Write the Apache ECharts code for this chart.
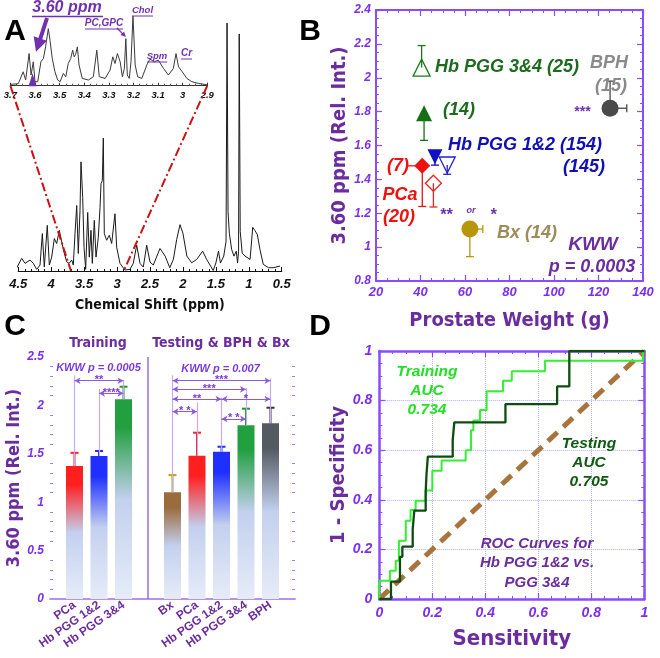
<!DOCTYPE html>
<html>
<head>
<meta charset="utf-8">
<title>Figure</title>
<script src="https://cdn.jsdelivr.net/npm/echarts@6.0.0/dist/echarts.min.js"></script>
<style>
html,body{margin:0;padding:0;background:#ffffff;}
#chart{width:660px;height:658px;}
</style>
</head>
<body>
<div id="chart"></div>
<script>
// ===== Panel A: 1H NMR spectrum (ppm, relative intensity) =====
const specPpm = [4.525,4.449,4.398,4.322,4.272,4.221,4.170,4.135,4.105,4.060,4.029,3.993,3.953,3.917,3.877,3.841,3.801,3.765,3.730,3.689,3.665,3.639,3.613,3.589,3.563,3.548,3.522,3.502,3.477,3.446,3.422,3.396,3.376,3.346,3.320,3.285,3.259,3.244,3.224,3.209,3.194,3.158,3.118,3.082,3.032,3.006,2.956,2.880,2.804,2.754,2.702,2.652,2.602,2.550,2.500,2.450,2.348,2.270,2.200,2.145,2.095,2.044,2.000,1.940,1.867,1.790,1.700,1.640,1.540,1.500,1.460,1.430,1.380,1.345,1.330,1.315,1.295,1.260,1.225,1.190,1.170,1.155,1.145,1.130,1.100,1.056,0.980,0.940,0.905,0.870,0.830,0.780,0.700,0.630,0.525];
const specInt = [3,12.7,7.7,11,7.7,1.7,6,37.7,4,46,6,14,32.7,27.7,41,29.3,17.7,9.3,7.7,11,6,37.7,66,17.7,61,110,74,24,1.7,59,14,41,7.7,51,14,34,64,88,91,134,37.7,31,36,27.7,57.7,24,7.7,1,1.7,7.7,26,7.7,4,26,9,6,22.7,15,3.3,11.7,31.7,46.7,38,15,8.3,11.7,20,11.7,0.5,8,20,8,15,30,250,60,38,21.7,15,20,8,20,239,40,18,15,11.7,44,40.7,36.7,21.7,6.7,3.3,3.3,5];
const insetPpm = [3.702,3.668,3.648,3.638,3.624,3.616,3.607,3.600,3.589,3.576,3.566,3.557,3.546,3.539,3.530,3.519,3.508,3.498,3.485,3.475,3.465,3.455,3.447,3.441,3.435,3.428,3.421,3.408,3.383,3.363,3.349,3.339,3.315,3.295,3.284,3.275,3.265,3.254,3.245,3.237,3.231,3.225,3.217,3.210,3.202,3.193,3.183,3.166,3.146,3.133,3.115,3.099,3.078,3.058,3.038,3.027,3.017,3.004,2.983,2.963,2.936,2.896];
const insetInt = [1.3,2,14,5.7,32.3,10.7,24,4,4,24,27.3,39,57.3,45.7,27.3,14,5.7,4,12.3,9,22.3,27.3,35.7,29,31.3,39,20.7,7.3,5.7,9,35.7,9,7.3,15.7,29,22.3,32.3,24,9,17.3,47.3,10.7,7.3,24,70,20.7,9,7.3,20.7,26.7,24,25.7,17.3,10.7,17.3,32.3,19,14.7,7.3,4,2.3,0.7];
const insetMarker = [3.61, 6];

// ===== Panel B: 3.60 ppm vs prostate weight =====
const bLabels = ['PCa (7)','PCa (20)','Hb PGG 1&2 (154)','Hb PGG 1&2 (145)','Hb PGG 3&4 (14)','Hb PGG 3&4 (25)','Bx (14)','BPH (15)'];
const bWeight = [40.8, 45.8, 46.5, 52.0, 41.6, 40.5, 62.2, 125.2];
const bMean   = [1.48, 1.377, 1.534, 1.485, 1.79, 2.06, 1.107, 1.82];
const bYErr   = [-0.24, -0.14, -0.05, -0.055, -0.16, 0.13, -0.163, 0.16];
const bXErr   = [-7, 0, 0, 0, 0, 0, 5.8, 7.5];

// ===== Panel C: bar chart =====
const trainCats = ['PCa','Hb PGG 1&2','Hb PGG 3&4'];
const trainMean = [1.374, 1.477, 2.063];
const trainErr  = [0.136, 0.052, 0.13];
const testCats  = ['Bx','PCa','Hb PGG 1&2','Hb PGG 3&4','BPH'];
const testMean  = [1.102, 1.48, 1.52, 1.794, 1.815];
const testErr   = [0.178, 0.238, 0.053, 0.172, 0.161];
const trainLinkTop = [2.31, 2.17, 2.26];
const testLinkTop  = [2.31, 2.03, 2.08, 2.18, 2.28];
// [from category, to category, level, stars]  (train: 0..2, test: 0..4)
const trainBrackets = [[0,2,2.255,'**'],[1,2,2.125,'****']];
const testBrackets  = [[0,4,2.255,'***'],[0,3,2.166,'***'],[0,2,2.066,'**'],[2,4,2.066,'*'],[0,1,1.935,'* *'],[2,3,1.86,'* *']];

// ===== Panel D: ROC curves (step corners) =====
const trainSens = [0,0.040,0.062,0.074,0.100,0.118,0.137,0.175,0.200,0.235,0.326,0.346,0.355,0.380,0.405,0.467,0.500,0.625,0.995];
const trainSpec = [0.074,0.114,0.154,0.235,0.316,0.359,0.396,0.437,0.517,0.558,0.600,0.680,0.720,0.762,0.838,0.880,0.918,0.961,1];
const testSens  = [0.044,0.078,0.087,0.126,0.132,0.175,0.178,0.183,0.277,0.283,0.476,0.671,0.717];
const testSpec  = [0.070,0.170,0.211,0.280,0.356,0.433,0.500,0.574,0.641,0.712,0.786,0.857,1];
const diagonal  = [[0,0],[1,1]];

// ---------------- styling ----------------
const FONT = "'Liberation Sans', Arial, sans-serif";
const TFONT = "'DejaVu Sans Condensed','DejaVu Sans', sans-serif";
const LBL = '#7a2ff0';
const TIT = '#6b2c9f';
const AX = '#8a4cff';
const catColor = {'PCa':'#ff1f1f','Hb PGG 1&2':'#1f2fff','Hb PGG 3&4':'#22a040','Bx':'#9a6b3c','BPH':'#545a62'};
const errColor = {'PCa':'#ff2020','Hb PGG 1&2':'#2030ff','Hb PGG 3&4':'#1a9a2a','Bx':'#c8a000','BPH':'#333333'};
const bColor  = ['#ee1111','#ee2222','#1010c8','#2020d0','#157015','#1a7a1a','#b8960a','#4a4a4a'];
const bSymbol = ['diamond','diamond','triangle','triangle','triangle','triangle','circle','circle'];
const bRotate = [0,0,180,180,0,0,0,0];
const bFilled = [true,false,true,false,true,false,true,true];
const bSize   = [16,16,15,16,16,17,17,17];

function steps(sx, sy) {
  const pts = [[0,0]]; let prev = 0;
  sx.forEach((x,i)=>{ pts.push([x,prev]); pts.push([x,sy[i]]); prev = sy[i]; });
  pts.push([1,1]);
  return pts;
}
const lab = (size, color) => ({color: color||LBL, fontFamily:FONT, fontWeight:'bold', fontStyle:'italic', fontSize:size});
function boxAxis(o){
  return Object.assign({type:'value', splitLine:{show:false},
    axisLine:{onZero:false, lineStyle:{color:AX, width:2}},
    axisTick:{inside:true, length:6, lineStyle:{color:AX, width:1.2}},
    minorTick:{show:true, splitNumber:4, length:3, lineStyle:{color:AX, width:1}}}, o);
}

const cAxisCats = [''].concat(trainCats, [''], testCats, ['']);
const trainOffset = 1, testOffset = trainCats.length + 2;

const chart = echarts.init(document.getElementById('chart'), null, {renderer:'canvas'});

const xAxis = [
  {type:'value', gridIndex:0, min:0.5, max:4.5, interval:0.5, inverse:true, splitLine:{show:false},
   axisLine:{onZero:false, lineStyle:{color:'#111', width:1.2}}, axisTick:{inside:true, length:4, lineStyle:{color:'#111'}},
   minorTick:{show:true, splitNumber:5, length:2, lineStyle:{color:'#111'}},
   axisLabel:Object.assign(lab(13,'#111'),{margin:7}),
   name:'Chemical Shift (ppm)', nameLocation:'middle', nameGap:27,
   nameTextStyle:{color:'#111', fontFamily:TFONT, fontWeight:'bold', fontSize:14}},
  {type:'value', gridIndex:1, min:2.9, max:3.7, interval:0.1, inverse:true, splitLine:{show:false},
   axisLine:{onZero:false, lineStyle:{color:'#333', width:1}}, axisTick:{inside:true, length:3, lineStyle:{color:'#333'}},
   minorTick:{show:true, splitNumber:4, length:2, lineStyle:{color:'#555'}},
   axisLabel:Object.assign(lab(9.5,'#111'),{margin:5, formatter:v=>String(Math.round(v*10)/10)})},
  boxAxis({gridIndex:2, min:20, max:140, interval:20, axisLabel:Object.assign(lab(13),{margin:5}),
   name:'Prostate Weight (g)', nameLocation:'middle', nameGap:30,
   nameTextStyle:{color:TIT, fontFamily:TFONT, fontWeight:'bold', fontSize:20}}),
  boxAxis({gridIndex:2, min:20, max:140, interval:20, position:'top', axisLabel:{show:false}}),
  {type:'category', gridIndex:3, data:cAxisCats, boundaryGap:false,
   axisLine:{lineStyle:{color:'#b08cf0', width:1.5}}, axisTick:{show:false},
   axisLabel:{rotate:35, interval:0, color:TIT, fontFamily:FONT, fontWeight:'bold', fontSize:12, margin:5}},
  {type:'category', gridIndex:3, data:cAxisCats, boundaryGap:false, position:'top',
   axisLine:{lineStyle:{color:'#b08cf0', width:1.5}}, axisTick:{show:false}, axisLabel:{show:false}},
  boxAxis({gridIndex:4, min:0, max:1, interval:0.2, axisLabel:Object.assign(lab(14),{margin:7}),
   axisLine:{onZero:false, lineStyle:{color:AX, width:2.5}},
   splitLine:{show:true, lineStyle:{color:'#a9b2f2', type:'dotted', width:1}},
   name:'Sensitivity', nameLocation:'middle', nameGap:29,
   nameTextStyle:{color:TIT, fontFamily:TFONT, fontWeight:'bold', fontSize:22}}),
  boxAxis({gridIndex:4, min:0, max:1, interval:0.2, position:'top', axisLabel:{show:false},
   axisLine:{onZero:false, lineStyle:{color:AX, width:2.5}}})
];

const yAxis = [
  {type:'value', gridIndex:0, min:0, max:252, show:false},
  {type:'value', gridIndex:1, min:0, max:71, show:false},
  boxAxis({gridIndex:2, min:0.8, max:2.4, interval:0.2, axisLabel:Object.assign(lab(12),{margin:5}),
   name:'3.60 ppm (Rel. Int.)', nameLocation:'middle', nameGap:26,
   nameTextStyle:{color:TIT, fontFamily:TFONT, fontWeight:'bold', fontSize:20}}),
  boxAxis({gridIndex:2, min:0.8, max:2.4, interval:0.2, position:'right', axisLabel:{show:false}}),
  boxAxis({gridIndex:3, min:0, max:2.5, interval:0.5, axisLabel:Object.assign(lab(12),{margin:6}),
   axisLine:{onZero:false, lineStyle:{color:'#b08cf0', width:1.5}},
   axisTick:{inside:true, length:5, lineStyle:{color:'#a57ff0'}},
   minorTick:{show:true, splitNumber:5, length:3, lineStyle:{color:'#a57ff0'}},
   name:'3.60 ppm (Rel. Int.)', nameLocation:'middle', nameGap:25,
   nameTextStyle:{color:TIT, fontFamily:TFONT, fontWeight:'bold', fontSize:18}}),
  boxAxis({gridIndex:3, min:0, max:2.5, interval:0.5, position:'right', axisLabel:{show:false},
   axisLine:{onZero:false, lineStyle:{color:'#b08cf0', width:1.5}},
   axisTick:{inside:true, length:5, lineStyle:{color:'#a57ff0'}},
   minorTick:{show:true, splitNumber:5, length:3, lineStyle:{color:'#a57ff0'}}}),
  boxAxis({gridIndex:4, min:0, max:1, interval:0.2, axisLabel:Object.assign(lab(14),{margin:7}),
   axisLine:{onZero:false, lineStyle:{color:AX, width:2.5}},
   splitLine:{show:true, lineStyle:{color:'#a9b2f2', type:'dotted', width:1}},
   name:'1 - Specificity', nameLocation:'middle', nameGap:31,
   nameTextStyle:{color:TIT, fontFamily:TFONT, fontWeight:'bold', fontSize:20}}),
  boxAxis({gridIndex:4, min:0, max:1, interval:0.2, position:'right', axisLabel:{show:false},
   axisLine:{onZero:false, lineStyle:{color:AX, width:2.5}}})
];

const series = [];
// Panel A
series.push({type:'line', xAxisIndex:0, yAxisIndex:0, data:specPpm.map((p,i)=>[p,specInt[i]]),
  showSymbol:false, lineStyle:{color:'#1a1a1a', width:1}, z:2});
series.push({type:'line', xAxisIndex:1, yAxisIndex:1, data:insetPpm.map((p,i)=>[p,insetInt[i]]),
  showSymbol:false, lineStyle:{color:'#3a3a3a', width:1}, z:2});
series.push({type:'scatter', xAxisIndex:1, yAxisIndex:1, data:[insetMarker], symbol:'triangle',
  symbolSize:[8,13], itemStyle:{color:'#7030b0', opacity:1}, z:3});

// Panel B error bars
series.push({type:'custom', xAxisIndex:2, yAxisIndex:2, z:2,
  data: bWeight.map((w,i)=>[w, bMean[i], bMean[i]+bYErr[i], w+bXErr[i]]),
  renderItem:(params, api)=>{
    const c = bColor[params.dataIndex];
    const p = api.coord([api.value(0), api.value(1)]);
    const q = api.coord([api.value(0), api.value(2)]);
    const r = api.coord([api.value(3), api.value(1)]);
    const st = {stroke:c, lineWidth:1.3};
    const ch = [];
    if (Math.abs(q[1]-p[1]) > 0.5) {
      ch.push({type:'line', shape:{x1:p[0],y1:p[1],x2:q[0],y2:q[1]}, style:st});
      ch.push({type:'line', shape:{x1:q[0]-4,y1:q[1],x2:q[0]+4,y2:q[1]}, style:st});
    }
    if (Math.abs(r[0]-p[0]) > 0.5) {
      ch.push({type:'line', shape:{x1:p[0],y1:p[1],x2:r[0],y2:r[1]}, style:st});
      ch.push({type:'line', shape:{x1:r[0],y1:r[1]-4,x2:r[0],y2:r[1]+4}, style:st});
    }
    return {type:'group', children:ch};
  }});
bLabels.forEach((name,i)=>{
  series.push({type:'scatter', name:name, xAxisIndex:2, yAxisIndex:2, z:3,
    data:[[bWeight[i], bMean[i]]], symbol:bSymbol[i], symbolRotate:bRotate[i], symbolSize:bSize[i],
    itemStyle: bFilled[i] ? {color:bColor[i], opacity:1} : {color:'rgba(255,255,255,0)', borderColor:bColor[i], borderWidth:1.3, opacity:1}});
});

// Panel C bars
function grad(c){
  return new echarts.graphic.LinearGradient(0,0,0,1,[
    {offset:0,color:c},{offset:0.14,color:c},{offset:0.5,color:'#c3d0ee'},{offset:1,color:'#e6ecf8'}]);
}
const barData = cAxisCats.map(()=>null);
const errData = [];
trainCats.forEach((c,i)=>{ barData[trainOffset+i] = {value:trainMean[i], itemStyle:{color:grad(catColor[c])}};
  errData.push([trainOffset+i, trainMean[i], trainMean[i]+trainErr[i], c]); });
testCats.forEach((c,i)=>{ barData[testOffset+i] = {value:testMean[i], itemStyle:{color:grad(catColor[c])}};
  errData.push([testOffset+i, testMean[i], testMean[i]+testErr[i], c]); });

const mlData = [];
mlData.push([{coord:[trainOffset+trainCats.length, 0], symbol:'none', lineStyle:{color:'#9a6ae8', width:1.5, type:'solid'}, label:{show:false}},
             {coord:[trainOffset+trainCats.length, 2.5], symbol:'none'}]);
trainCats.forEach((c,i)=>mlData.push([{coord:[trainOffset+i, trainMean[i]], symbol:'none', lineStyle:{color:'#c6aaf5', width:1.2, type:'solid'}, label:{show:false}},
  {coord:[trainOffset+i, trainLinkTop[i]], symbol:'none'}]));
testCats.forEach((c,i)=>mlData.push([{coord:[testOffset+i, testMean[i]], symbol:'none', lineStyle:{color:'#c6aaf5', width:1.2, type:'solid'}, label:{show:false}},
  {coord:[testOffset+i, testLinkTop[i]], symbol:'none'}]));
function bracket(off, b){
  return [{coord:[off+b[0], b[2]], symbol:'arrow', symbolSize:[5,6],
    lineStyle:{color:'#8a5ae0', width:1, type:'solid'},
    label:{show:true, formatter:b[3], position:'middle', distance:0, lineHeight:1, color:'#7a3ae0', fontSize:11, fontWeight:'bold', fontFamily:FONT}},
    {coord:[off+b[1], b[2]], symbol:'arrow', symbolSize:[5,6]}];
}
trainBrackets.forEach(b=>mlData.push(bracket(trainOffset,b)));
testBrackets.forEach(b=>mlData.push(bracket(testOffset,b)));

series.push({type:'bar', xAxisIndex:4, yAxisIndex:4, data:barData, barWidth:17, z:2,
  markLine:{silent:true, animation:false, symbol:['none','none'], data:mlData}});
series.push({type:'custom', xAxisIndex:4, yAxisIndex:4, z:4, data:errData,
  renderItem:(params, api)=>{
    const c = errColor[errData[params.dataIndex][3]];
    const p = api.coord([api.value(0), api.value(1)]);
    const q = api.coord([api.value(0), api.value(2)]);
    const st = {stroke:c, lineWidth:2};
    return {type:'group', children:[
      {type:'line', shape:{x1:p[0],y1:p[1],x2:q[0],y2:q[1]}, style:st},
      {type:'line', shape:{x1:q[0]-4,y1:q[1],x2:q[0]+4,y2:q[1]}, style:st}]};
  }});

// Panel D
series.push({type:'line', xAxisIndex:6, yAxisIndex:6, data:diagonal, showSymbol:false, z:2,
  lineStyle:{color:'#a8743c', width:5, type:[13,8]}});
series.push({type:'line', xAxisIndex:6, yAxisIndex:6, data:steps(trainSens,trainSpec), showSymbol:false, z:3,
  lineStyle:{color:'#33f033', width:2}});
series.push({type:'line', xAxisIndex:6, yAxisIndex:6, data:steps(testSens,testSpec), showSymbol:false, z:4,
  lineStyle:{color:'#0d4d10', width:2.3}});

chart.setOption({
  animation:false,
  backgroundColor:'#ffffff',
  grid:[
    {left:18.3, width:263.4, top:21, height:250},
    {left:10.4, width:196.9, top:15, height:70.7},
    {left:376, width:267, top:10, height:271},
    {left:50, width:245, top:357, height:242},
    {left:379.3, width:265, top:351, height:248}
  ],
  xAxis:xAxis, yAxis:yAxis, series:series
});

// ---------------- annotations ----------------
const px = (g, pt) => chart.convertToPixel({gridIndex:g}, pt);
function T(text, x, y, o){
  o = o || {};
  const st = {text:text, fill:o.color||'#000', fontSize:o.size||12, fontWeight:o.weight||'bold',
    fontStyle:o.style||'italic', fontFamily:o.family||FONT,
    align:o.align||'center', textAlign:o.align||'center', verticalAlign:'middle', textVerticalAlign:'middle'};
  if (o.lh) st.lineHeight = o.lh;
  return {type:'text', x:x, y:y, z:100, style:st};
}
function L(x1,y1,x2,y2,c,w,dash){
  const s = {stroke:c, lineWidth:w||1};
  if (dash) s.lineDash = dash;
  return {type:'line', z:90, shape:{x1,y1,x2,y2}, style:s};
}
function arrow(x1,y1,x2,y2,sw,hl,hw,c){
  const dx=x2-x1, dy=y2-y1, len=Math.hypot(dx,dy), ux=dx/len, uy=dy/len, nx=-uy, ny=ux;
  const bx=x2-ux*hl, by=y2-uy*hl;
  const pts=[[x1+nx*sw/2,y1+ny*sw/2],[bx+nx*sw/2,by+ny*sw/2],[bx+nx*hw/2,by+ny*hw/2],[x2,y2],
    [bx-nx*hw/2,by-ny*hw/2],[bx-nx*sw/2,by-ny*sw/2],[x1-nx*sw/2,y1-ny*sw/2]];
  return {type:'polygon', z:95, shape:{points:pts}, style:{fill:c}};
}
const P = '#7030b0';
const a1 = px(1,[3.7,0]), a2 = px(0,[3.7,0]), b1 = px(1,[2.9,0]), b2 = px(0,[2.9,0]);
const tip = px(1,[3.596,34]);
const pcTip = px(1,[3.231,49]);
const g = [
  T('A', 15, 32, {size:30, style:'normal'}),
  T('B', 310, 32, {size:30, style:'normal'}),
  T('C', 15, 327, {size:30, style:'normal'}),
  T('D', 320, 327, {size:30, style:'normal'}),
  L(a1[0],a1[1],a2[0],a2[1],'#cc1010',2,[9,3,2,3]),
  L(b1[0],b1[1],b2[0],b2[1],'#cc1010',2,[9,3,2,3]),
  T('3.60 ppm', 67, 8, {size:16, color:P}),
  L(32,16.5,103,16.5,P,1.5),
  arrow(47,18,tip[0],tip[1],4,14,14,P),
  T('PC,GPC', 104, 23, {size:10, color:P}),
  L(85,29,123,29,P,1),
  arrow(117,28,pcTip[0],pcTip[1],1.3,5,5,P),
  T('Chol', 142.5, 10.5, {size:9.5, color:P}),
  L(132,16,153,16,P,1),
  T('Spm', 157, 56, {size:9.5, color:P}),
  L(147,62,167,62,P,1),
  T('Cr', 186.5, 53.5, {size:10, color:P}),
  L(181,59,192,59,P,1),
  // Panel B labels
  T('Hb PGG 3&4 (25)', 435, 67, {size:18, color:'#1d6b1d', align:'left'}),
  T('(14)', 443, 110, {size:18, color:'#1d6b1d', align:'left'}),
  T('Hb PGG 1&2 (154)', 448, 145, {size:18, color:'#1010b8', align:'left'}),
  T('(145)', 563, 167, {size:18, color:'#1010b8', align:'left'}),
  T('(7)', 398, 166, {size:18, color:'#ee1111'}),
  T('PCa', 400, 195, {size:18, color:'#ee1111'}),
  T('(20)', 399, 217, {size:18, color:'#ee1111'}),
  T('**', 446, 216, {size:16, color:P}),
  T('or', 471, 211, {size:9, color:P}),
  T('*', 493, 216, {size:16, color:P}),
  T('Bx (14)', 527, 233, {size:18, color:'#9c8c58'}),
  T('KWW', 593, 245, {size:19, color:TIT}),
  T('p = 0.0003', 592, 267, {size:18, color:TIT}),
  T('BPH', 609, 63, {size:18, color:'#8a8a8a'}),
  T('(15)', 611, 86, {size:18, color:'#8a8a8a'}),
  T('***', 582, 112, {size:14, color:P}),
  // Panel C labels
  T('Training', 98, 343, {size:14, color:TIT, style:'normal', family:TFONT}),
  T('Testing & BPH & Bx', 221, 343, {size:14, color:TIT, style:'normal', family:TFONT}),
  T('KWW p = 0.0005', 98.5, 368, {size:11, color:'#7a3ae0'}),
  T('KWW p = 0.007', 220.5, 369, {size:11, color:'#7a3ae0'}),
  // Panel D labels
  T('Training\nAUC\n0.734', 427, 391, {size:15.5, color:'#22e022', lh:19}),
  T('Testing\nAUC\n0.705', 589, 463, {size:15.5, color:'#0d5a10', lh:19}),
  T('ROC Curves for\nHb PGG 1&2 vs.\nPGG 3&4', 537, 563, {size:15, color:TIT, lh:19.5})
];
chart.setOption({graphic:g});
</script>
</body>
</html>
